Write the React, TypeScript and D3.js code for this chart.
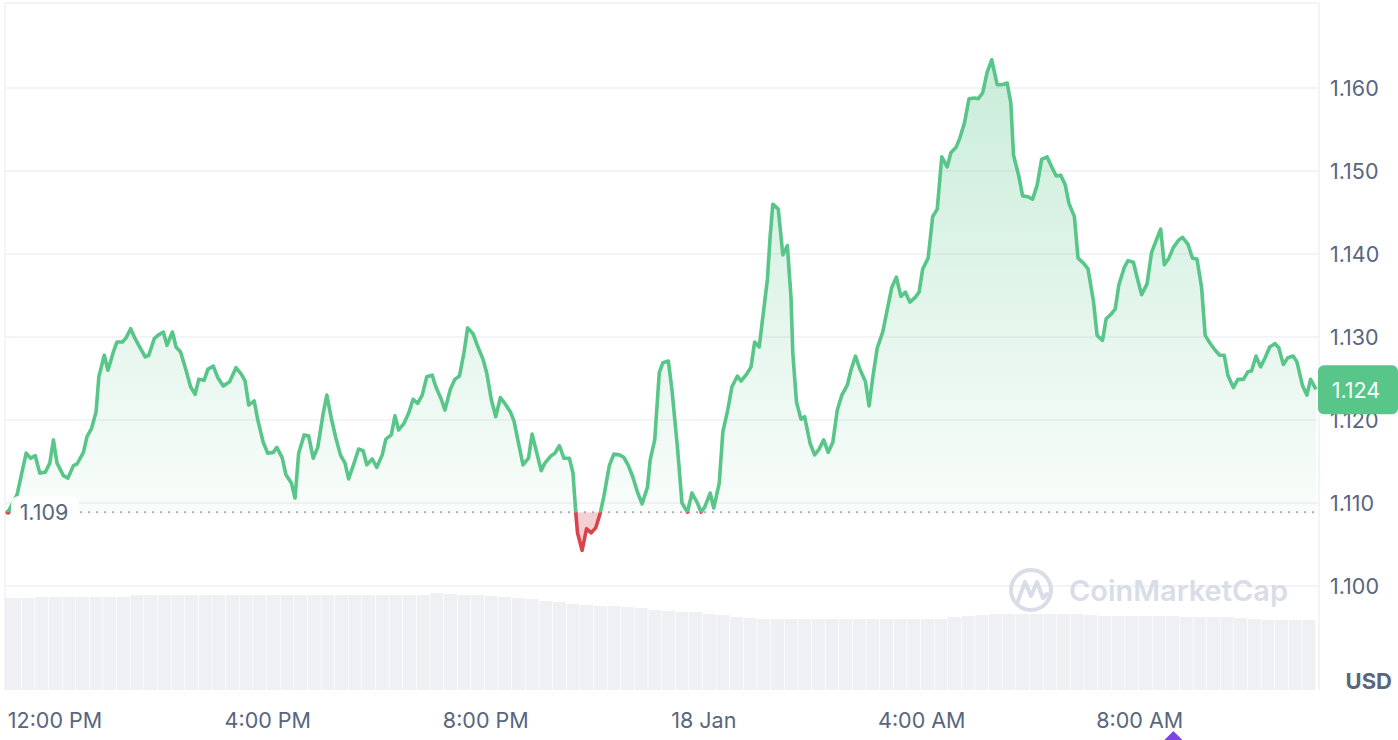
import React from 'react';
import * as d3 from 'd3';

// minutes since the first sample (≈ 11:14 AM, 17 Jan)
const minutes = [
  0, 10, 20, 25, 30, 35, 41, 46, 50, 54, 61, 66, 72, 76, 83, 87, 92, 97, 100, 106,
  110, 116, 120, 126, 130, 135, 140, 144, 151, 155, 161, 165, 171, 175, 181, 185, 190, 196, 201, 206,
  210, 216, 220, 226, 231, 237, 244, 251, 257, 261, 265, 271, 275, 281, 286, 292, 296, 302, 306, 312,
  316, 320, 326, 331, 336, 341, 347, 351, 356, 361, 366, 371, 375, 381, 386, 391, 395, 401, 406, 412,
  416, 422, 426, 430, 436, 441, 446, 451, 456, 461, 467, 471, 477, 481, 487, 492, 497, 502, 506, 512,
  517, 523, 527, 532, 537, 542, 547, 553, 557, 563, 567, 573, 577, 582, 587, 591, 598, 602, 607, 612,
  618, 622, 625, 627, 632, 637, 642, 647, 652, 656, 662, 667, 673, 678, 683, 688, 693, 698, 704, 707,
  712, 717, 721, 727, 731, 737, 742, 748, 753, 759, 763, 767, 773, 777, 783, 787, 792, 797, 803, 807,
  813, 818, 822, 827, 831, 836, 839, 842, 848, 853, 858, 862, 864, 868, 873, 877, 883, 888, 893, 898,
  903, 908, 913, 918, 924, 928, 933, 938, 944, 948, 952, 957, 963, 968, 973, 978, 983, 988, 993, 999,
  1003, 1007, 1013, 1018, 1023, 1028, 1034, 1038, 1044, 1048, 1053, 1058, 1064, 1068, 1073, 1078, 1083, 1089, 1094, 1100,
  1104, 1107, 1113, 1117, 1123, 1128, 1133, 1138, 1144, 1149, 1154, 1159, 1164, 1168, 1174, 1178, 1184, 1189, 1195, 1199,
  1205, 1209, 1214, 1219, 1223, 1229, 1233, 1239, 1243, 1248, 1254, 1259, 1265, 1269, 1273, 1278, 1283, 1289, 1293, 1299,
  1304, 1309, 1314, 1318, 1323, 1329, 1334, 1339, 1343, 1349, 1354, 1360, 1365, 1369, 1374, 1379, 1384, 1389, 1395, 1399,
  1404, 1409, 1415, 1419, 1425, 1430, 1434, 1440,
];

const prices = [
  1.1089, 1.1110, 1.1160, 1.1154, 1.1157, 1.1136, 1.1137, 1.1148, 1.1176, 1.1148, 1.1133, 1.1130, 1.1145, 1.1147, 1.1161, 1.1180, 1.1190, 1.1210, 1.1252, 1.1278,
  1.1260, 1.1282, 1.1294, 1.1294, 1.1299, 1.1310, 1.1298, 1.1290, 1.1276, 1.1278, 1.1298, 1.1302, 1.1306, 1.1290, 1.1306, 1.1288, 1.1282, 1.1260, 1.1240, 1.1231,
  1.1249, 1.1248, 1.1261, 1.1265, 1.1251, 1.1241, 1.1246, 1.1263, 1.1255, 1.1247, 1.1218, 1.1223, 1.1200, 1.1173, 1.1160, 1.1161, 1.1167, 1.1154, 1.1134, 1.1124,
  1.1106, 1.1160, 1.1182, 1.1181, 1.1154, 1.1167, 1.1208, 1.1230, 1.1202, 1.1178, 1.1158, 1.1148, 1.1129, 1.1148, 1.1165, 1.1163, 1.1146, 1.1153, 1.1143, 1.1158,
  1.1177, 1.1182, 1.1205, 1.1188, 1.1196, 1.1208, 1.1225, 1.1220, 1.1230, 1.1252, 1.1254, 1.1240, 1.1225, 1.1212, 1.1237, 1.1249, 1.1253, 1.1281, 1.1311, 1.1304,
  1.1289, 1.1273, 1.1257, 1.1225, 1.1204, 1.1227, 1.1220, 1.1210, 1.1199, 1.1167, 1.1146, 1.1154, 1.1183, 1.1161, 1.1139, 1.1148, 1.1157, 1.1160, 1.1169, 1.1154,
  1.1154, 1.1136, 1.1089, 1.1064, 1.1043, 1.1069, 1.1064, 1.1070, 1.1088, 1.1108, 1.1145, 1.1159, 1.1158, 1.1155, 1.1145, 1.1131, 1.1113, 1.1099, 1.1119, 1.1152,
  1.1176, 1.1257, 1.1269, 1.1271, 1.1236, 1.1167, 1.1100, 1.1089, 1.1112, 1.1100, 1.1089, 1.1095, 1.1112, 1.1094, 1.1124, 1.1186, 1.1210, 1.1240, 1.1253, 1.1247,
  1.1255, 1.1264, 1.1294, 1.1288, 1.1324, 1.1369, 1.1420, 1.1460, 1.1454, 1.1399, 1.1410, 1.1348, 1.1281, 1.1222, 1.1201, 1.1204, 1.1172, 1.1158, 1.1165, 1.1176,
  1.1161, 1.1173, 1.1212, 1.1230, 1.1242, 1.1260, 1.1277, 1.1261, 1.1246, 1.1217, 1.1251, 1.1287, 1.1306, 1.1333, 1.1360, 1.1372, 1.1349, 1.1354, 1.1342, 1.1348,
  1.1354, 1.1382, 1.1395, 1.1445, 1.1454, 1.1517, 1.1505, 1.1522, 1.1529, 1.1540, 1.1558, 1.1587, 1.1588, 1.1587, 1.1594, 1.1619, 1.1634, 1.1604, 1.1604, 1.1606,
  1.1582, 1.1519, 1.1493, 1.1470, 1.1469, 1.1466, 1.1483, 1.1514, 1.1517, 1.1505, 1.1494, 1.1495, 1.1483, 1.1461, 1.1445, 1.1395, 1.1389, 1.1382, 1.1343, 1.1302,
  1.1296, 1.1322, 1.1327, 1.1334, 1.1363, 1.1384, 1.1392, 1.1390, 1.1372, 1.1351, 1.1364, 1.1402, 1.1419, 1.1430, 1.1387, 1.1395, 1.1408, 1.1417, 1.1420, 1.1412,
  1.1395, 1.1394, 1.1360, 1.1302, 1.1293, 1.1284, 1.1278, 1.1278, 1.1254, 1.1239, 1.1249, 1.1249, 1.1258, 1.1259, 1.1277, 1.1264, 1.1275, 1.1288, 1.1292, 1.1287,
  1.1267, 1.1275, 1.1277, 1.1270, 1.1242, 1.1230, 1.1249, 1.1237,
];

// volume per 15-minute bucket (relative units)
const volumeStep = 15;
const volumes = [
  92, 92, 93, 93, 93, 93, 93, 93, 93, 95, 95, 95, 95, 95, 95, 95, 95, 95, 95, 95,
  95, 95, 95, 95, 95, 95, 95, 95, 95, 95, 95, 97, 96, 95, 95, 94, 93, 92, 91, 89,
  88, 86, 85, 84, 84, 83, 82, 80, 79, 78, 78, 76, 75, 73, 72, 71, 71, 71, 71, 71,
  71, 71, 71, 71, 71, 71, 71, 71, 71, 73, 74, 75, 76, 76, 76, 76, 76, 76, 76, 75,
  74, 74, 74, 74, 74, 74, 73, 73, 73, 73, 72, 71, 70, 70, 70, 70,
];

const yTicks = [1.1, 1.11, 1.12, 1.13, 1.14, 1.15, 1.16];
const xTickMinutes = [46, 286, 526, 766, 1006, 1246];
const xTickLabels = ['12:00 PM', '4:00 PM', '8:00 PM', '18 Jan', '4:00 AM', '8:00 AM'];
const eventMarkerMinute = 1283;
const currency = 'USD';
const watermark = 'CoinMarketCap';

const W = 1398;
const H = 740;
const L = 5;
const R = 1319;
const T = 3;
const B = 690;
const GREEN = '#58c589';
const RED = '#d9444c';
const LABEL = '#58667e';
const FONT = 'Inter, "Noto Sans", sans-serif';
const FS = 21.5;

export default function App() {
  const x = d3.scaleLinear().domain([0, 1440]).range([8, 1316]);
  const y = d3.scaleLinear().domain([1.1, 1.16]).range([586, 88]);
  const vy = d3.scaleLinear().domain([0, 100]).range([B, 590]);

  const data = minutes.map((m, i) => ({ m, p: prices[i] }));
  const base = prices[0];
  const yBase = y(base);

  const line = d3.line<{ m: number; p: number }>().x((d) => x(d.m)).y((d) => y(d.p));
  const area = d3
    .area<{ m: number; p: number }>()
    .x((d) => x(d.m))
    .y0(yBase)
    .y1((d) => y(d.p));

  const linePath = line(data) || '';
  const areaPath = area(data) || '';
  const last = prices[prices.length - 1];
  const yLast = y(last);
  const bw = x(volumeStep) - x(0);
  const ex = x(eventMarkerMinute);

  return (
    <svg
      width={W}
      height={H}
      style={{ position: 'absolute', left: 0, top: 0, background: '#fff' }}
      fontFamily={FONT}
    >
      <defs>
        <clipPath id="above">
          <rect x={0} y={0} width={W} height={yBase} />
        </clipPath>
        <clipPath id="below">
          <rect x={0} y={yBase} width={W} height={H - yBase} />
        </clipPath>
        <linearGradient id="gGreen" gradientUnits="userSpaceOnUse" x1={0} y1={y(1.1634)} x2={0} y2={yBase}>
          <stop offset="0" stopColor={GREEN} stopOpacity={0.32} />
          <stop offset="1" stopColor={GREEN} stopOpacity={0.04} />
        </linearGradient>
      </defs>

      {/* frame */}
      <line x1={L} x2={L} y1={T} y2={B} stroke="#eff1f4" strokeWidth={1.5} />
      <line x1={L} x2={R} y1={T} y2={T} stroke="#eff1f4" strokeWidth={1.5} />
      <line x1={R} x2={R} y1={T} y2={B} stroke="#eff1f4" strokeWidth={1.5} />

      {/* grid */}
      {yTicks.map((t) => (
        <line key={t} x1={L} x2={R} y1={y(t)} y2={y(t)} stroke="#eff1f4" strokeWidth={1.5} />
      ))}

      {/* volume */}
      {volumes.map((v, i) => (
        <rect
          key={i}
          x={x(i * volumeStep)}
          y={vy(v)}
          width={Math.max(0, bw - 0.7)}
          height={B - vy(v)}
          fill="#eff0f4"
        />
      ))}
      <rect x={L} y={vy(volumes[0])} width={x(0) - L} height={B - vy(volumes[0])} fill="#eff0f4" />

      {/* watermark */}
      <g opacity={0.85}>
        <circle cx={1031} cy={590} r={20} fill="none" stroke="#d3d8e3" strokeWidth={4} />
        <path
          d="M1018 601 L1025 582 L1031 596 L1037 582 L1043 598 L1047 594"
          fill="none"
          stroke="#d3d8e3"
          strokeWidth={4}
          strokeLinejoin="round"
          strokeLinecap="round"
        />
        <text x={1069} y={601} fontSize={29} fontWeight={600} fill="#d3d8e3">
          {watermark}
        </text>
      </g>

      {/* areas */}
      <path d={areaPath} fill="url(#gGreen)" clipPath="url(#above)" />
      <path d={areaPath} fill={RED} fillOpacity={0.25} clipPath="url(#below)" />

      {/* baseline */}
      <line x1={80} x2={R} y1={yBase} y2={yBase} stroke="#a6adbd" strokeWidth={2} strokeDasharray="2 6" />

      {/* price line */}
      <path d={linePath} fill="none" stroke={GREEN} strokeWidth={3.6} strokeLinejoin="round" clipPath="url(#above)" />
      <path d={linePath} fill="none" stroke={RED} strokeWidth={3.6} strokeLinejoin="round" clipPath="url(#below)" />

      {/* start marker & label */}
      <rect x={11} y={496} width={68} height={33} rx={8} fill="#fff" fillOpacity={0.92} />
      <circle cx={x(0)} cy={yBase} r={2.5} fill={RED} />
      <path d={`M${x(0) - 2.5} ${yBase} a2.5 2.5 0 0 1 5 0 z`} fill={GREEN} />
      <text x={44} y={yBase} fontSize={FS} fill={LABEL} textAnchor="middle" dominantBaseline="central">
        {base.toFixed(3)}
      </text>

      {/* y labels */}
      {yTicks.map((t) => (
        <text key={t} x={1330} y={y(t)} fontSize={FS} fill={LABEL} dominantBaseline="central">
          {t.toFixed(3)}
        </text>
      ))}

      {/* last price tag */}
      <rect x={1318} y={yLast - 24} width={80} height={49} rx={6} fill={GREEN} />
      <text x={1356} y={yLast + 1} fontSize={FS} fill="#fff" textAnchor="middle" dominantBaseline="central">
        {last.toFixed(3)}
      </text>

      {/* x labels */}
      {xTickMinutes.map((m, i) => (
        <text
          key={m}
          x={Math.max(x(m), 55)}
          y={720}
          fontSize={FS}
          fill={LABEL}
          textAnchor="middle"
          dominantBaseline="central"
        >
          {xTickLabels[i]}
        </text>
      ))}

      <text x={1392} y={681} fontSize={22} fontWeight={700} fill={LABEL} textAnchor="end" dominantBaseline="central">
        {currency}
      </text>

      {/* event marker */}
      <path d={`M${ex - 9} ${H} L${ex} ${H - 9} L${ex + 9} ${H} Z`} fill="#7b45e6" />
    </svg>
  );
}
